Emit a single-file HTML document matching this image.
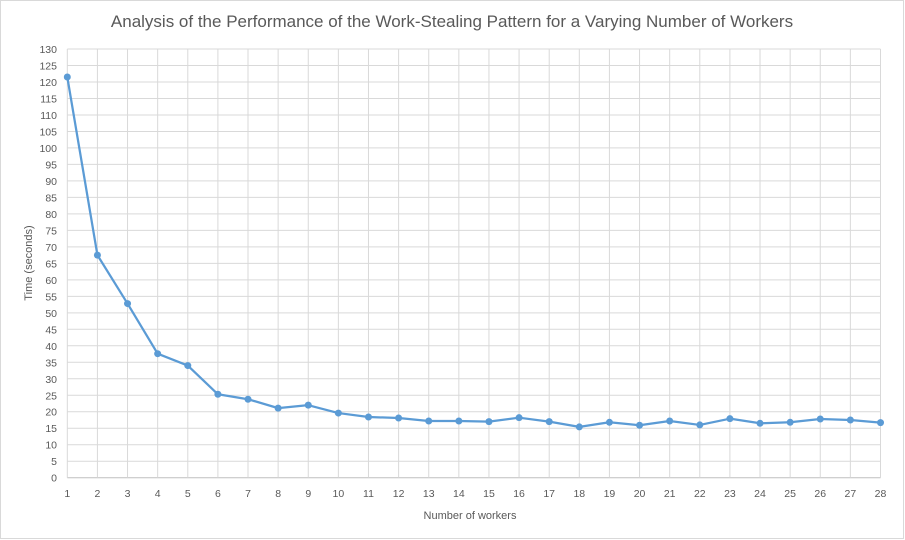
<!DOCTYPE html>
<html><head><meta charset="utf-8"><style>
body{margin:0;background:#fff;}
svg{display:block;font-family:"Liberation Sans",sans-serif;}
</style></head><body>
<svg id="c" width="905" height="540">
<rect x="0.5" y="0.5" width="903" height="538" fill="#fff" stroke="#d9d9d9"/>
<text x="452" y="27" text-anchor="middle" font-size="17" fill="#595959">Analysis of the Performance of the Work-Stealing Pattern for a Varying Number of Workers</text>
<text x="470" y="519" text-anchor="middle" font-size="11" fill="#595959">Number of workers</text>
<text transform="translate(32,263) rotate(-90)" text-anchor="middle" font-size="11" fill="#595959">Time (seconds)</text>
<g id="grid"></g><g id="series"></g>
</svg>
<script>
const categories=[1,2,3,4,5,6,7,8,9,10,11,12,13,14,15,16,17,18,19,20,21,22,23,24,25,26,27,28];
const times=[121.5,67.5,52.8,37.6,34,25.3,23.8,21.1,22,19.6,18.4,18.1,17.2,17.2,17,18.2,17,15.4,16.8,15.9,17.2,16,17.9,16.5,16.8,17.8,17.5,16.7];
const yTicks=[0,5,10,15,20,25,30,35,40,45,50,55,60,65,70,75,80,85,90,95,100,105,110,115,120,125,130];
const NS="http://www.w3.org/2000/svg";
const x0=67.3,x1=880.5,y0=477.7,y1=49;
const xs=v=>x0+(v-1)*(x1-x0)/27;
const ys=v=>y0-v*(y0-y1)/130;
const g=document.getElementById('grid'),s=document.getElementById('series');
function mk(t,a,p){const e=document.createElementNS(NS,t);for(const k in a)e.setAttribute(k,a[k]);p.appendChild(e);return e;}
yTicks.forEach(v=>{
 const l=mk('line',{x1:x0,x2:x1,y1:ys(v),y2:ys(v),stroke:v===0?'#bfbfbf':'#d9d9d9','stroke-width':1},g);
 
 
 const t=mk('text',{x:57,y:ys(v)+4,'text-anchor':'end','font-size':10.5,fill:'#595959'},g);t.textContent=v;
 
 
});
categories.forEach(c=>{
 const l=mk('line',{x1:xs(c),x2:xs(c),y1:y1,y2:y0,stroke:'#d9d9d9','stroke-width':1},g);
 
 
 const t=mk('text',{x:xs(c),y:497,'text-anchor':'middle','font-size':10.5,fill:'#595959'},g);t.textContent=c;
 
 
});
const pl=mk('polyline',{points:categories.map((c,i)=>xs(c)+','+ys(times[i])).join(' '),fill:'none',stroke:'#5b9bd5','stroke-width':2.25,'stroke-linejoin':'round'},s);


categories.forEach((c,i)=>{
 const p=mk('circle',{cx:xs(c),cy:ys(times[i]),r:3.5,fill:'#5b9bd5'},s);
 
 
});
</script>
</body></html>
